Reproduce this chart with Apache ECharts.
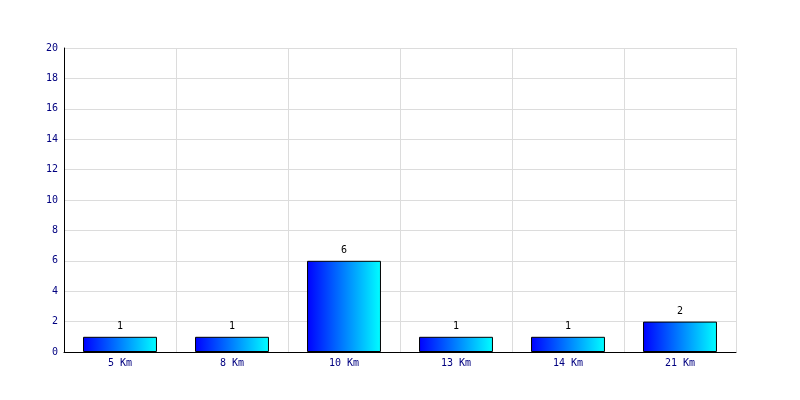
<!DOCTYPE html>
<html><head><meta charset="utf-8">
<script src="https://cdn.jsdelivr.net/npm/echarts@6/dist/echarts.min.js"></script>
<style>html,body{margin:0;padding:0;background:#fff}#c{width:800px;height:400px}</style>
</head><body><div id="c"></div>
<script>
const categories = ["5 Km","8 Km","10 Km","13 Km","14 Km","21 Km"];
const values = [1,1,6,1,1,2];
const yTicks = {min:0,max:20,interval:2};
const font = "'DejaVu Sans Mono', monospace";
const chart = echarts.init(document.getElementById('c'), null, {renderer:'canvas'});
chart.setOption({
  animation:false,
  backgroundColor:'#fff',
  grid:{left:64,right:64,top:48,bottom:48,containLabel:false},
  xAxis:{type:'category',data:categories,boundaryGap:true,
    axisLine:{lineStyle:{color:'#000',width:1}},
    axisTick:{show:false},
    axisLabel:{color:'#000080',fontFamily:font,fontSize:10,margin:6},
    splitLine:{show:true,lineStyle:{color:'#dcdcdc',width:1}}},
  yAxis:{type:'value',min:yTicks.min,max:yTicks.max,interval:yTicks.interval,
    axisLine:{show:true,lineStyle:{color:'#000',width:1}},
    axisTick:{show:false},
    axisLabel:{color:'#000080',fontFamily:font,fontSize:10,margin:6},
    splitLine:{show:true,lineStyle:{color:'#dcdcdc',width:1}}},
  series:[{type:'bar',data:values,barWidth:'66%',
    itemStyle:{borderColor:'#000',borderWidth:1,
      color:new echarts.graphic.LinearGradient(0,0,1,0,[{offset:0,color:'#0000ff'},{offset:1,color:'#00ffff'}])},
    label:{show:true,position:'top',color:'#000',fontFamily:font,fontSize:10,distance:5}}]
});
</script></body></html>
